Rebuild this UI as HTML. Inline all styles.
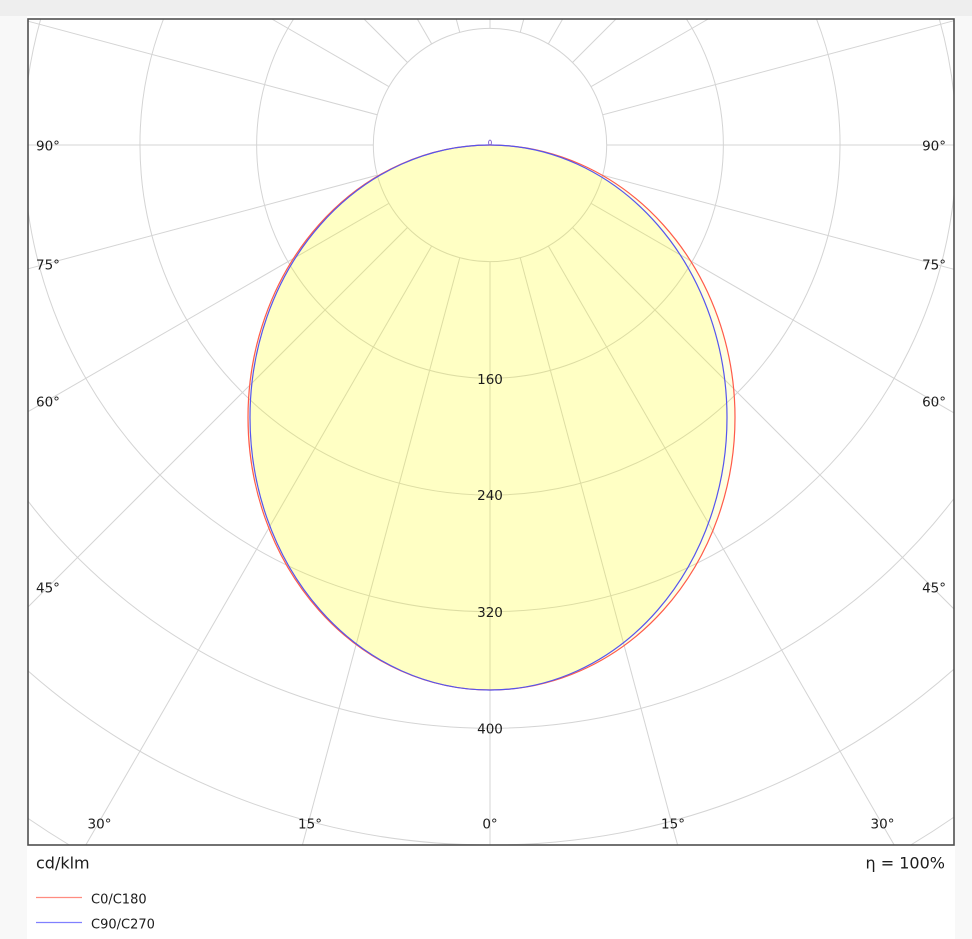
<!DOCTYPE html>
<html>
<head>
<meta charset="utf-8">
<style>
  html,body{margin:0;padding:0;width:972px;height:939px;overflow:hidden;}
  body{background:#f8f8f8;position:relative;font-family:"DejaVu Sans","Liberation Sans",sans-serif;}
  .top{position:absolute;left:0;top:0;width:972px;height:16px;background:#eeeeee;}
  .panel{position:absolute;left:27px;top:16px;width:928px;height:923px;background:#ffffff;}
  svg{position:absolute;left:0;top:0;display:block;}
  text{font-family:"DejaVu Sans","Liberation Sans",sans-serif;fill:#1c1c1c;}
</style>
</head>
<body>
<div class="top"></div>
<div class="panel"></div>
<svg width="972" height="939" viewBox="0 0 972 939" xmlns="http://www.w3.org/2000/svg">
  <!-- radial lines (pre-clipped to box) -->
  <g stroke="#d4d4d4" stroke-width="1" fill="none">
    <line x1="490" y1="145" x2="490" y2="845"/>
    <line x1="490" y1="145" x2="677.6" y2="845"/>
    <line x1="490" y1="145" x2="894.2" y2="845"/>
    <line x1="490" y1="145" x2="954" y2="609"/>
    <line x1="490" y1="145" x2="954" y2="412.9"/>
    <line x1="490" y1="145" x2="954" y2="269.3"/>
    <line x1="490" y1="145" x2="954" y2="145"/>
    <line x1="490" y1="145" x2="954" y2="20.7"/>
    <line x1="490" y1="145" x2="708.2" y2="19"/>
    <line x1="490" y1="145" x2="616" y2="19"/>
    <line x1="490" y1="145" x2="562.7" y2="19"/>
    <line x1="490" y1="145" x2="523.8" y2="19"/>
    <line x1="490" y1="145" x2="490" y2="19"/>
    <line x1="490" y1="145" x2="302.4" y2="845"/>
    <line x1="490" y1="145" x2="85.8" y2="845"/>
    <line x1="490" y1="145" x2="28" y2="607"/>
    <line x1="490" y1="145" x2="28" y2="411.7"/>
    <line x1="490" y1="145" x2="28" y2="268.8"/>
    <line x1="490" y1="145" x2="28" y2="145"/>
    <line x1="490" y1="145" x2="28" y2="21.2"/>
    <line x1="490" y1="145" x2="271.8" y2="19"/>
    <line x1="490" y1="145" x2="364" y2="19"/>
    <line x1="490" y1="145" x2="417.3" y2="19"/>
    <line x1="490" y1="145" x2="456.2" y2="19"/>
  </g>
  <!-- blank inner circle -->
  <circle cx="490" cy="145" r="116.67" fill="#ffffff"/>
  <!-- rings (pre-clipped arcs) -->
  <g stroke="#d4d4d4" stroke-width="1" fill="none">
    <circle cx="490" cy="145" r="116.67"/>
    <path d="M293.6,19 A233.33,233.33 0 1,0 686.4,19"/>
    <path d="M163.5,19 A350,350 0 1,0 816.5,19"/>
    <path d="M40.7,19 A466.67,466.67 0 0,0 28,79.1"/>
    <path d="M28,210.9 A466.67,466.67 0 0,0 954,194.8"/>
    <path d="M954,95.2 A466.67,466.67 0 0,0 939.3,19"/>
    <path d="M28,501.1 A583.33,583.33 0 0,0 954,498.5"/>
    <path d="M28,670.9 A700,700 0 0,0 954,669.1"/>
    <path d="M28,818.4 A816.67,816.67 0 0,0 69.3,845"/>
    <path d="M910.7,845 A816.67,816.67 0 0,0 954,817.1"/>
  </g>
  <!-- fills -->
  <path d="M490,145 A242,272.5 0 0,0 490,690 A245,272.5 0 0,0 490,145 Z" fill="#ffff00" fill-opacity="0.12"/>
  <path d="M490,145 A240,272.5 0 0,0 490,690 A237,272.5 0 0,0 490,145 Z" fill="#ffff00" fill-opacity="0.12"/>
  <!-- curves -->
  <path d="M490,145 A242,272.5 0 0,0 490,690 A245,272.5 0 0,0 490,145 Z" fill="none" stroke="#ff5a4a" stroke-width="1.2"/>
  <path d="M490,145 A240,272.5 0 0,0 490,690 A237,272.5 0 0,0 490,145 Z" fill="none" stroke="#5555ee" stroke-width="1.2"/>
  <ellipse cx="490" cy="142.5" rx="1.4" ry="2.4" fill="none" stroke="#7a55cc" stroke-width="0.9"/>

  <!-- box -->
  <rect x="28" y="19" width="926" height="826" fill="none" stroke="#4f4f4f" stroke-width="1.6"/>

  <g font-size="13.5" text-anchor="middle">
    <text x="490" y="384">160</text>
    <text x="490" y="500">240</text>
    <text x="490" y="617">320</text>
    <text x="490" y="733.5">400</text>
  </g>

  <g font-size="13.5" text-anchor="start">
    <text x="36" y="150.7">90°</text>
    <text x="36" y="269.7">75°</text>
    <text x="36" y="406.7">60°</text>
    <text x="36" y="592.7">45°</text>
  </g>
  <g font-size="13.5" text-anchor="end">
    <text x="946" y="150.7">90°</text>
    <text x="946" y="269.7">75°</text>
    <text x="946" y="406.7">60°</text>
    <text x="946" y="592.7">45°</text>
  </g>
  <g font-size="13.5" text-anchor="middle">
    <text x="99.5" y="828.7">30°</text>
    <text x="310" y="828.7">15°</text>
    <text x="490" y="828.7">0°</text>
    <text x="673" y="828.7">15°</text>
    <text x="882.5" y="828.7">30°</text>
  </g>

  <text x="36" y="868.5" font-size="16">cd/klm</text>
  <text x="945" y="868.5" font-size="16" text-anchor="end">η = 100%</text>

  <line x1="36" y1="897.5" x2="82" y2="897.5" stroke="#ff8c80" stroke-width="1.2"/>
  <text x="91" y="903.5" font-size="13">C0/C180</text>
  <line x1="36" y1="922.5" x2="82" y2="922.5" stroke="#8080ff" stroke-width="1.2"/>
  <text x="91" y="928.5" font-size="13">C90/C270</text>
</svg>
</body>
</html>
